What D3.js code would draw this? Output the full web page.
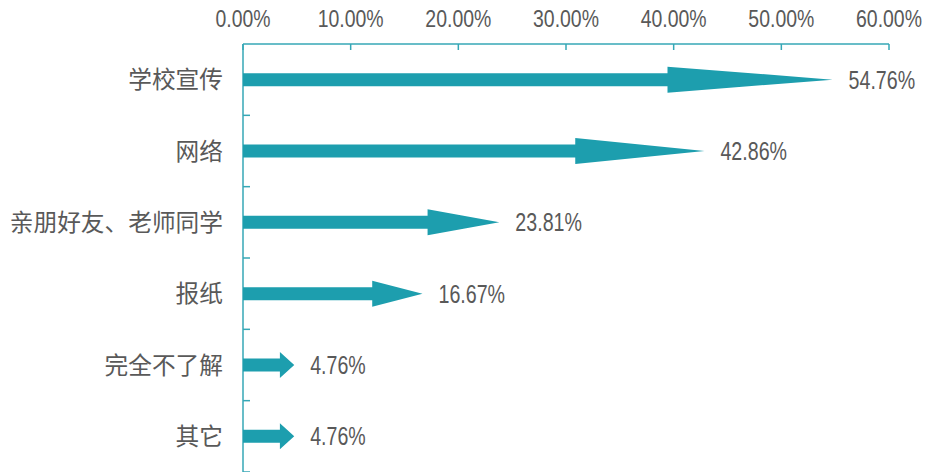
<!DOCTYPE html>
<html>
<head>
<meta charset="utf-8">
<script src="https://cdn.jsdelivr.net/npm/d3@7"></script>
<style>
  html, body { margin: 0; padding: 0; background: #fff; }
  svg { display: block; }
</style>
</head>
<body>
<svg id="chart" width="925" height="472"></svg>
<script>
const categories = ["学校宣传", "网络", "亲朋好友、老师同学", "报纸", "完全不了解", "其它"];
const values = [54.76, 42.86, 23.81, 16.67, 4.76, 4.76];
const valueLabels = ["54.76%", "42.86%", "23.81%", "16.67%", "4.76%", "4.76%"];
const tickValues = [0, 10, 20, 30, 40, 50, 60];
const tickLabels = ["0.00%", "10.00%", "20.00%", "30.00%", "40.00%", "50.00%", "60.00%"];

const svg = d3.select("#chart");
const margin = { left: 243, top: 44 };

const arrowColor = "#1d9eae";
const axisColor = "#36a7b6";
const textColor = "#595959";
const numFont = "'Liberation Sans Narrow', 'Liberation Sans', Arial, sans-serif";

const x = d3.scaleLinear().domain([0, 60]).range([margin.left, 889]);
const y = d3.scaleBand().domain(categories).range([margin.top, 472]).paddingInner(0).paddingOuter(0);

// Top axis
const gTop = svg.append("g");
gTop.append("line")
  .attr("x1", x(0)).attr("x2", x(60))
  .attr("y1", margin.top).attr("y2", margin.top)
  .attr("stroke", axisColor).attr("stroke-width", 1.5);
gTop.selectAll("line.tick").data(tickValues).join("line")
  .attr("class", "tick")
  .attr("x1", d => x(d)).attr("x2", d => x(d))
  .attr("y1", margin.top).attr("y2", margin.top + 6)
  .attr("stroke", axisColor).attr("stroke-width", 1.5);
gTop.selectAll("text").data(tickValues).join("text")
  .attr("x", d => x(d)).attr("y", 27)
  .attr("text-anchor", "middle")
  .attr("font-family", numFont)
  .attr("font-size", 24)
  .attr("fill", textColor)
  .attr("textLength", (d, i) => tickLabels[i].length * 11.0)
  .attr("lengthAdjust", "spacingAndGlyphs")
  .text((d, i) => tickLabels[i]);

// Left axis
const gLeft = svg.append("g");
gLeft.append("line")
  .attr("x1", x(0)).attr("x2", x(0))
  .attr("y1", margin.top).attr("y2", 472)
  .attr("stroke", axisColor).attr("stroke-width", 1.5);
const bounds = categories.map(c => y(c) + y.bandwidth());
gLeft.selectAll("line.tick").data(bounds).join("line")
  .attr("class", "tick")
  .attr("x1", x(0)).attr("x2", x(0) + 7)
  .attr("y1", d => d).attr("y2", d => d)
  .attr("stroke", axisColor).attr("stroke-width", 1.5);
gLeft.selectAll("text").data(categories).join("text")
  .attr("x", x(0) - 20)
  .attr("y", d => y(d) + y.bandwidth() / 2)
  .attr("dy", "0.36em")
  .attr("text-anchor", "end")
  .attr("font-family", "'Noto Sans CJK SC', sans-serif")
  .attr("font-size", 23.7)
  .attr("fill", textColor)
  .text(d => d);

// Arrows
const shaftH = 13, headH = 26;
function arrowPath(v, cy) {
  const x0 = x(0), x1 = x(v);
  const L = x1 - x0;
  const hx = x1 - 0.28 * L;
  const p = d3.path();
  p.moveTo(x0, cy - shaftH / 2);
  p.lineTo(hx, cy - shaftH / 2);
  p.lineTo(hx, cy - headH / 2);
  p.lineTo(x1, cy);
  p.lineTo(hx, cy + headH / 2);
  p.lineTo(hx, cy + shaftH / 2);
  p.lineTo(x0, cy + shaftH / 2);
  p.closePath();
  return p.toString();
}
svg.append("g").selectAll("path").data(categories).join("path")
  .attr("d", (c, i) => arrowPath(values[i], y(c) + y.bandwidth() / 2))
  .attr("fill", arrowColor);

// Value labels
svg.append("g").selectAll("text").data(categories).join("text")
  .attr("x", (c, i) => x(values[i]) + 16)
  .attr("y", c => y(c) + y.bandwidth() / 2)
  .attr("dy", "0.36em")
  .attr("font-family", numFont)
  .attr("font-size", 25)
  .attr("fill", textColor)
  .attr("textLength", (c, i) => valueLabels[i].length * 11.1)
  .attr("lengthAdjust", "spacingAndGlyphs")
  .text((c, i) => valueLabels[i]);
</script>
</body>
</html>
